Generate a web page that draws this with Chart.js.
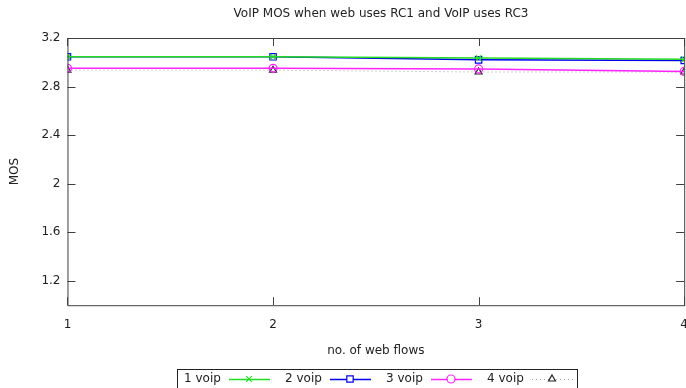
<!DOCTYPE html>
<html lang="en">
<head>
  <meta charset="UTF-8">
  <title>VoIP MOS</title>
  <script src="https://cdn.jsdelivr.net/npm/chart.js"></script>
  <style>
    body { margin: 0; background: #fff; overflow: hidden; }
    #wrap { width: 700px; height: 388px; position: relative; }
  </style>
</head>
<body>
  <div id="wrap"><canvas id="mos"></canvas></div>
  <script>
    // dados
    const flows = [1, 2, 3, 4];
    const voip1 = [3.045, 3.045, 3.035, 3.025];
    const voip2 = [3.045, 3.045, 3.02, 3.015];
    const voip3 = [2.95, 2.95, 2.945, 2.925];
    const voip4 = [2.935, 2.935, 2.92, 2.92];
    const yTicks = [1.2, 1.6, 2, 2.4, 2.8, 3.2];
    const xTicks = [1, 2, 3, 4];
    const seriesNames = ["1 voip", "2 voip", "3 voip", "4 voip"];

    const FONT = "DejaVu Sans";
    const pts = arr => arr.map((v, i) => ({ x: flows[i], y: v }));

    // borda, ticks para dentro, titulo e legenda no estilo gnuplot
    const gnuplotLook = {
      id: "gnuplotLook",
      afterDatasetsDraw(chart) {
        const { ctx, chartArea: a, scales } = chart;
        ctx.save();
        ctx.strokeStyle = "#404040";
        ctx.lineWidth = 1;
        ctx.strokeRect(a.left + 0.5, a.top + 0.5, a.right - a.left, a.bottom - a.top);
        ctx.beginPath();
        yTicks.forEach(t => {
          const y = Math.round(scales.y.getPixelForValue(t)) + 0.5;
          ctx.moveTo(a.left, y); ctx.lineTo(a.left + 8, y);
          ctx.moveTo(a.right, y); ctx.lineTo(a.right - 8, y);
        });
        xTicks.forEach(t => {
          const x = Math.round(scales.x.getPixelForValue(t)) + 0.5;
          ctx.moveTo(x, a.bottom); ctx.lineTo(x, a.bottom - 8);
          ctx.moveTo(x, a.top); ctx.lineTo(x, a.top + 8);
        });
        ctx.stroke();

        // titulo
        ctx.fillStyle = "#222";
        ctx.font = "12px '" + FONT + "'";
        ctx.textAlign = "center";
        ctx.textBaseline = "middle";
        ctx.fillText("VoIP MOS when web uses RC1 and VoIP uses RC3", 381, 14);

        // legenda
        const top = 369, left = 177, entryW = 101;
        ctx.strokeStyle = "#222";
        ctx.strokeRect(left + 0.5, top + 0.5, 400, 20);
        ctx.textAlign = "left";
        chart.data.datasets.forEach((ds, i) => {
          const x0 = left + 7 + i * entryW;
          const yc = top + 10;
          ctx.fillStyle = "#222";
          ctx.fillText(ds.label, x0, yc);
          ctx.save();
          ctx.strokeStyle = ds.borderColor;
          ctx.lineWidth = ds.borderWidth;
          ctx.setLineDash(ds.borderDash || []);
          ctx.beginPath();
          ctx.moveTo(x0 + 45, yc + 0.5);
          ctx.lineTo(x0 + 86, yc + 0.5);
          ctx.stroke();
          ctx.setLineDash([]);
          ctx.strokeStyle = ds.pointBorderColor;
          ctx.fillStyle = "#fff";
          ctx.lineWidth = ds.pointBorderWidth;
          Chart.helpers.drawPoint(ctx, {
            pointStyle: ds.pointStyle,
            radius: ds.pointRadius,
            borderWidth: ds.pointBorderWidth,
            rotation: 0
          }, x0 + 65, yc);
          ctx.restore();
        });
        ctx.restore();
      }
    };

    const mk = (label, data, color, style, radius, dash) => ({
      label, data: pts(data),
      borderColor: color, backgroundColor: "transparent",
      borderWidth: dash ? 1 : 1.5,
      borderDash: dash || [],
      pointStyle: style, pointRadius: radius,
      pointBorderColor: dash ? "#222" : color,
      pointBackgroundColor: "transparent",
      pointBorderWidth: 1.2, tension: 0
    });

    new Chart(document.getElementById("mos"), {
      type: "line",
      data: {
        datasets: [
          mk(seriesNames[0], voip1, "#22dd22", "crossRot", 4),
          mk(seriesNames[1], voip2, "#0000ee", "rect", 4.5),
          mk(seriesNames[2], voip3, "#ff22ff", "circle", 4),
          mk(seriesNames[3], voip4, "#a0a0a0", "triangle", 4, [1, 3])
        ]
      },
      options: {
        responsive: true,
        maintainAspectRatio: false,
        animation: false,
        layout: { padding: { top: 38, right: 8, bottom: 26, left: 4 } },
        plugins: { legend: { display: false }, title: { display: false }, tooltip: { enabled: false } },
        scales: {
          x: {
            type: "linear", min: 1, max: 4,
            afterBuildTicks: s => { s.ticks = xTicks.map(v => ({ value: v })); },
            grid: { display: false, drawTicks: false },
            border: { display: false },
            ticks: { color: "#222", font: { family: FONT, size: 12 }, padding: 12, autoSkip: false },
            title: { display: true, text: "no. of web flows", color: "#222", font: { family: FONT, size: 12 }, padding: { top: 0 } }
          },
          y: {
            min: 1, max: 3.2,
            afterBuildTicks: s => { s.ticks = yTicks.map(v => ({ value: v })); },
            grid: { display: false, drawTicks: false },
            border: { display: false },
            ticks: { color: "#222", font: { family: FONT, size: 12 }, padding: 7, autoSkip: false,
                     callback: v => String(v) },
            title: { display: true, text: "MOS", color: "#222", font: { family: FONT, size: 12 }, padding: { bottom: 12 } }
          }
        }
      },
      plugins: [gnuplotLook]
    });
  </script>
</body>
</html>
